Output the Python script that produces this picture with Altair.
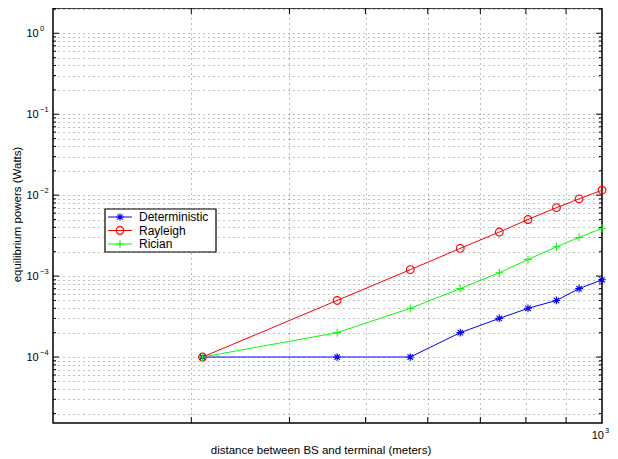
import altair as alt
import pandas as pd

# ---- data ----
distance = [310, 460, 570, 660, 740, 805, 875, 935, 1000]
deterministic = [1e-4, 1e-4, 1e-4, 2e-4, 3e-4, 4e-4, 5e-4, 7e-4, 9e-4]
rayleigh = [1e-4, 5e-4, 1.2e-3, 2.2e-3, 3.5e-3, 5e-3, 7e-3, 9e-3, 1.15e-2]
rician = [1e-4, 2e-4, 4e-4, 7e-4, 1.1e-3, 1.6e-3, 2.3e-3, 3e-3, 3.9e-3]
series_names = ["Deterministic", "Rayleigh", "Rician"]
series_colors = ["#0000ff", "#ff0000", "#00ff00"]

y_label_exps = [0, -1, -2, -3, -4]
x_label_values = [1000]
x_grid_values = [300, 400, 500, 600, 700, 800, 900, 1000]
x_domain = [200, 1000]
y_domain = [10 ** -4.815, 10 ** 0.312]

W, H = 549, 415
FONT = "Liberation Sans"

rows = []
for name, vals in zip(series_names, [deterministic, rayleigh, rician]):
    for d, v in zip(distance, vals):
        rows.append({"series": name, "distance": d, "power": v})
df = pd.DataFrame(rows)

y_grid = [m * 10.0 ** k for k in range(-5, 1) for m in range(1, 10)] + [2.0]
y_grid = [v for v in y_grid if y_domain[0] <= v <= y_domain[1]]
y_major = [10.0 ** e for e in y_label_exps]
y_minor = [v for v in y_grid if all(abs(v - m) > 1e-12 for m in y_major)]

asterisk = "M-1,0L1,0M0,-1L0,1M-0.7,-0.7L0.7,0.7M-0.7,0.7L0.7,-0.7"
plus = "M-1,0L1,0M0,-1L0,1"

xs = alt.Scale(type="log", domain=x_domain, nice=False)
ys = alt.Scale(type="log", domain=y_domain, nice=False)
cs = alt.Scale(domain=series_names, range=series_colors)
ss = alt.Scale(domain=series_names, range=[asterisk, "circle", plus])

grid_style = dict(grid=True, gridDash=[1, 4], gridColor="#000", gridOpacity=0.5,
                  labels=False, ticks=False, domain=False, title=None)
x_enc = alt.X("distance:Q", scale=xs, axis=alt.Axis(values=x_grid_values, **grid_style))
y_enc = alt.Y("power:Q", scale=ys, axis=alt.Axis(values=y_grid, **grid_style))

base = alt.Chart(df)
lines = base.mark_line(strokeWidth=1).encode(
    x=x_enc, y=y_enc,
    color=alt.Color("series:N", scale=cs, legend=None),
    detail="series:N",
)
points = base.mark_point(filled=False, strokeWidth=1.1, size=60, opacity=1).encode(
    x="distance:Q", y="power:Q",
    color=alt.Color("series:N", scale=cs, legend=None),
    shape=alt.Shape("series:N", scale=ss, legend=None),
)

# inward ticks
ymaj_df = pd.DataFrame({"power": y_major})
ymin_df = pd.DataFrame({"power": y_minor})
xt_df = pd.DataFrame({"distance": x_grid_values[:-1]})
tick_layers = [
    alt.Chart(ymaj_df).mark_rule(color="black").encode(y="power:Q", x=alt.value(0), x2=alt.value(6)),
    alt.Chart(ymaj_df).mark_rule(color="black").encode(y="power:Q", x=alt.value(W), x2=alt.value(W - 6)),
    alt.Chart(ymin_df).mark_rule(color="black").encode(y="power:Q", x=alt.value(0), x2=alt.value(3)),
    alt.Chart(ymin_df).mark_rule(color="black").encode(y="power:Q", x=alt.value(W), x2=alt.value(W - 3)),
    alt.Chart(xt_df).mark_rule(color="black").encode(x="distance:Q", y=alt.value(H), y2=alt.value(H - 6)),
    alt.Chart(xt_df).mark_rule(color="black").encode(x="distance:Q", y=alt.value(0), y2=alt.value(6)),
]

# tick labels (10 with superscript exponent)
ylab_df = pd.DataFrame({
    "power": [10.0 ** e for e in y_label_exps],
    "exp": [str(e).replace("-", "\u2212") for e in y_label_exps],
})
ylab10 = alt.Chart(ylab_df).mark_text(align="left", baseline="middle", font=FONT, fontSize=11, dy=1).encode(
    y="power:Q", x=alt.value(-26.5), text=alt.value("10"))
ylabexp = alt.Chart(ylab_df).mark_text(align="left", baseline="middle", font=FONT, fontSize=7.5, dy=-4).encode(
    y="power:Q", x=alt.value(-13), text="exp:N")

xlab_df = pd.DataFrame({"distance": x_label_values, "exp": ["3"]})
xlab10 = alt.Chart(xlab_df).mark_text(align="right", baseline="middle", font=FONT, fontSize=11, dx=2).encode(
    x="distance:Q", y=alt.value(H + 13), text=alt.value("10"))
xlabexp = alt.Chart(xlab_df).mark_text(align="left", baseline="middle", font=FONT, fontSize=7.5, dx=3).encode(
    x="distance:Q", y=alt.value(H + 8), text="exp:N")

# axis titles
one = pd.DataFrame({"a": [0]})
xtitle = alt.Chart(one).mark_text(font=FONT, fontSize=11.5, baseline="middle", align="center").encode(
    x=alt.value(268), y=alt.value(H + 28), text=alt.value("distance between BS and terminal (meters)"))
ytitle = alt.Chart(one).mark_text(font=FONT, fontSize=11.5, baseline="middle", align="center", angle=270).encode(
    x=alt.value(-35), y=alt.value(H / 2 - 1), text=alt.value("equilibrium powers (Watts)"))

# legend
leg_box = alt.Chart(one).mark_rect(fill="white", stroke="black", strokeWidth=1.2).encode(
    x=alt.value(52), x2=alt.value(163), y=alt.value(201), y2=alt.value(244))
leg = alt.Chart(pd.DataFrame({"series": series_names})).transform_window(
    idx="row_number()").transform_calculate(ly="209 + (datum.idx - 1) * 13.5")
leg_lines = leg.mark_rule(strokeWidth=1).encode(
    y=alt.Y("ly:Q", scale=None), x=alt.value(55), x2=alt.value(79),
    color=alt.Color("series:N", scale=cs, legend=None))
leg_pts = leg.mark_point(filled=False, strokeWidth=1.1, size=60, opacity=1).encode(
    y=alt.Y("ly:Q", scale=None), x=alt.value(67),
    color=alt.Color("series:N", scale=cs, legend=None),
    shape=alt.Shape("series:N", scale=ss, legend=None))
leg_text = leg.mark_text(align="left", baseline="middle", font=FONT, fontSize=12).encode(
    y=alt.Y("ly:Q", scale=None), x=alt.value(86), text="series:N")

chart = alt.layer(
    lines, points, *tick_layers, ylab10, ylabexp, xlab10, xlabexp, xtitle, ytitle,
    leg_box, leg_lines, leg_pts, leg_text,
).properties(
    width=W, height=H,
    autosize=alt.AutoSizeParams(type="none"),
    padding={"left": 45, "top": 0, "right": 8, "bottom": 34},
    background="white",
).configure_view(stroke="black", strokeWidth=1.5)

chart.save("out.html", embed_options={"renderer": "svg", "actions": False})
